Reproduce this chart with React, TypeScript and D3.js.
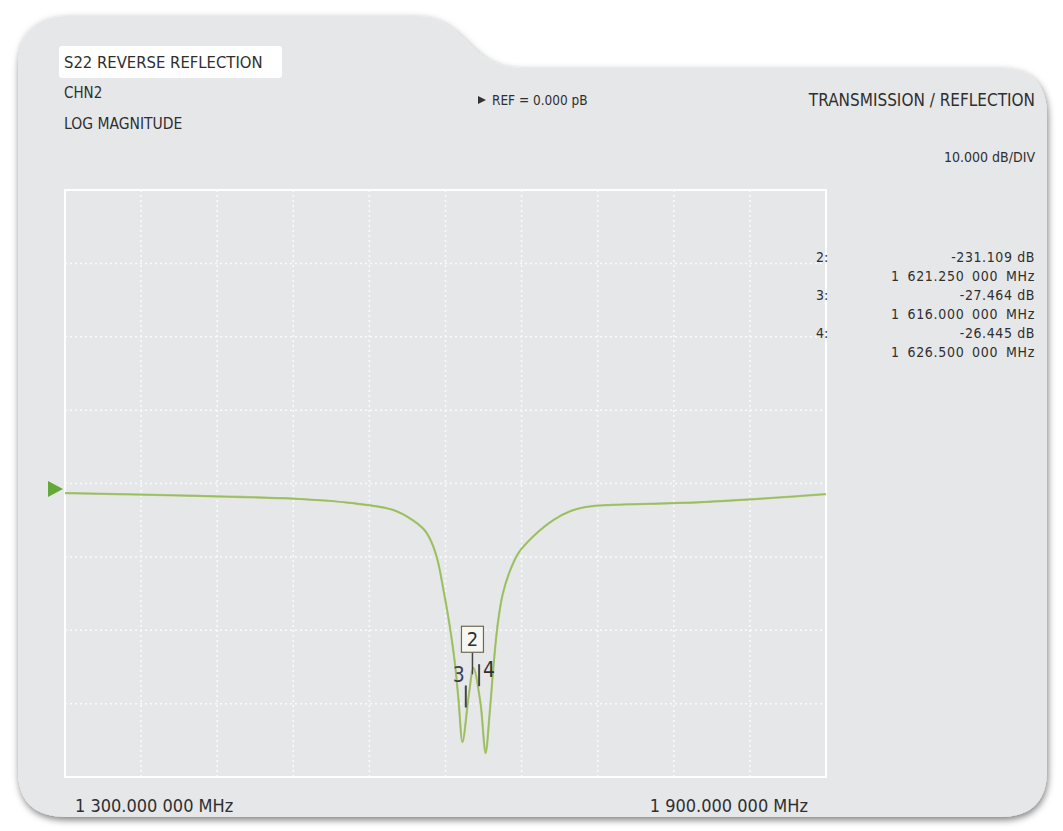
import { useEffect, useRef } from 'react';
import * as d3 from 'd3';

// trace (frequency in MHz, magnitude in dB)
const traceFreq = [1300, 1406.6, 1485.5, 1525, 1558.9, 1573.9, 1583.4, 1588.9, 1593.7, 1598.4, 1603.2, 1607.1, 1610.3, 1613.4, 1618.2, 1622.1, 1627.6, 1631.6, 1634.7, 1637.9, 1641.1, 1645.0, 1650.5, 1657.6, 1669.5, 1685.3, 1698.7, 1710.5, 1726.3, 1801.3, 1900];
const traceDb = [-0.55, -0.95, -1.36, -1.9, -2.86, -4.22, -5.59, -7.22, -9.67, -13.76, -18.53, -23.3, -28.8, -34.5, -28.3, -24.4, -29.2, -36.0, -30.8, -24.0, -18.5, -14.4, -11.3, -8.7, -6.4, -4.2, -3.0, -2.45, -2.2, -1.8, -0.7];

const markerIds = ['2', '3', '4'];
const markerFreq = [1621.25, 1616, 1626.5];
const markerDbText = ['-231.109 dB', '-27.464 dB', '-26.445 dB'];
const markerFreqText = ['1 621.250 000 MHz', '1 616.000 000 MHz', '1 626.500 000 MHz'];

const headerLeft = ['S22 REVERSE REFLECTION', 'CHN2', 'LOG MAGNITUDE'];
const refText = 'REF = 0.000 pB';
const modeText = 'TRANSMISSION / REFLECTION';
const scaleText = '10.000 dB/DIV';
const startText = '1 300.000 000 MHz';
const stopText = '1 900.000 000 MHz';

const FREQ_START = 1300;
const FREQ_STOP = 1900;
const DIVS_X = 10;
const DIVS_Y = 8;
const DB_PER_DIV = 10;
const REF_DIV = 3.925; // reference level position, divisions from bottom

export default function App() {
  const svgRef = useRef<SVGSVGElement>(null);

  useEffect(() => {
    if (!svgRef.current) return;
    const svg = d3.select(svgRef.current);
    svg.selectAll('*').remove();

    const width = 1063;
    const height = 831;
    const plot = { left: 65, top: 190, right: 826, bottom: 777 };
    const font = '"DejaVu Sans Condensed", "Liberation Sans Narrow", Roboto, sans-serif';
    const textColor = '#2f2f2f';
    const trace = '#98c055';

    svg.attr('width', width).attr('height', height);

    const defs = svg.append('defs');
    const shadow = defs.append('filter').attr('id', 'shadow')
      .attr('x', '-5%').attr('y', '-5%').attr('width', '110%').attr('height', '110%');
    shadow.append('feDropShadow')
      .attr('dx', 1).attr('dy', 3).attr('stdDeviation', 3.5)
      .attr('flood-color', '#000').attr('flood-opacity', 0.5);

    // panel with the tab on top
    const panel = d3.path();
    panel.moveTo(18, 68);
    panel.quadraticCurveTo(18, 16, 70, 16);
    panel.lineTo(415, 16);
    panel.bezierCurveTo(468, 16, 466, 68, 522, 68);
    panel.lineTo(1000, 68);
    panel.quadraticCurveTo(1047, 68, 1047, 116);
    panel.lineTo(1047, 770);
    panel.quadraticCurveTo(1047, 817, 1000, 817);
    panel.lineTo(66, 817);
    panel.quadraticCurveTo(18, 817, 18, 770);
    panel.closePath();

    svg.append('path')
      .attr('d', panel.toString())
      .attr('fill', '#e6e7e9')
      .attr('filter', 'url(#shadow)');

    // Scales
    const x = d3.scaleLinear().domain([FREQ_START, FREQ_STOP]).range([plot.left, plot.right]);
    const y = d3.scaleLinear()
      .domain([-REF_DIV * DB_PER_DIV, (DIVS_Y - REF_DIV) * DB_PER_DIV])
      .range([plot.bottom, plot.top]);
    const divX = d3.scaleLinear().domain([0, DIVS_X]).range([plot.left, plot.right]);
    const divY = d3.scaleLinear().domain([0, DIVS_Y]).range([plot.bottom, plot.top]);

    // grid
    const grid = svg.append('g')
      .attr('stroke', '#ffffff')
      .attr('stroke-width', 1.5)
      .attr('stroke-dasharray', '2,3')
      .attr('opacity', 0.85);
    d3.range(1, DIVS_X).forEach(i => {
      grid.append('line')
        .attr('x1', divX(i)).attr('x2', divX(i))
        .attr('y1', plot.top).attr('y2', plot.bottom);
    });
    d3.range(1, DIVS_Y).forEach(i => {
      grid.append('line')
        .attr('x1', plot.left).attr('x2', plot.right)
        .attr('y1', divY(i)).attr('y2', divY(i));
    });

    svg.append('rect')
      .attr('x', plot.left).attr('y', plot.top)
      .attr('width', plot.right - plot.left)
      .attr('height', plot.bottom - plot.top)
      .attr('fill', 'none')
      .attr('stroke', '#ffffff')
      .attr('stroke-width', 2);

    // trace
    const points = traceFreq.map((f, i) => ({ f, db: traceDb[i] }));
    const line = d3.line<{ f: number; db: number }>()
      .x(d => x(d.f))
      .y(d => y(d.db))
      .curve(d3.curveCatmullRom.alpha(0.5));

    svg.append('path')
      .datum(points)
      .attr('d', line)
      .attr('fill', 'none')
      .attr('stroke', '#7fa83a')
      .attr('stroke-width', 2.2)
      .attr('opacity', 0.5);
    svg.append('path')
      .datum(points)
      .attr('d', line)
      .attr('fill', 'none')
      .attr('stroke', trace)
      .attr('stroke-width', 1.4);

    // reference arrow
    const refY = y(0);
    svg.append('path')
      .attr('d', `M48,${refY - 8}L63,${refY}L48,${refY + 8}Z`)
      .attr('fill', '#64a838');

    // markers
    const traceAt = (f: number) => {
      const i = d3.bisector((d: number) => d).right(traceFreq, f);
      const f0 = traceFreq[i - 1], f1 = traceFreq[i];
      const t = (f - f0) / (f1 - f0);
      return y(traceDb[i - 1] + t * (traceDb[i] - traceDb[i - 1]));
    };

    markerIds.forEach((id, i) => {
      const mx = x(markerFreq[i]);
      const ty = traceAt(markerFreq[i]);
      const g = svg.append('g');
      if (i === 0) {
        g.append('line')
          .attr('x1', mx).attr('x2', mx)
          .attr('y1', ty - 22).attr('y2', ty)
          .attr('stroke', '#444').attr('stroke-width', 1.5);
        g.append('rect')
          .attr('x', mx - 11).attr('y', ty - 48)
          .attr('width', 22).attr('height', 26)
          .attr('fill', '#f7f7f2')
          .attr('stroke', '#6b6b55').attr('stroke-width', 1.2);
        g.append('text')
          .attr('x', mx).attr('y', ty - 28)
          .attr('text-anchor', 'middle')
          .style('font-family', font).style('font-size', '20px')
          .attr('fill', textColor)
          .text(id);
      } else {
        const bottom = ty - 10;
        const top = bottom - 22;
        g.append('line')
          .attr('x1', mx).attr('x2', mx)
          .attr('y1', top).attr('y2', bottom)
          .attr('stroke', '#444').attr('stroke-width', 2);
        g.append('text')
          .attr('x', i === 1 ? mx - 1 : mx + 4)
          .attr('y', i === 1 ? top - 4 : top + 13)
          .attr('text-anchor', i === 1 ? 'end' : 'start')
          .style('font-family', font).style('font-size', '21px')
          .attr('fill', i === 1 ? '#3a3f5a' : textColor)
          .text(id);
      }
    });

    // header texts
    svg.append('rect')
      .attr('x', 59).attr('y', 46)
      .attr('width', 223).attr('height', 32)
      .attr('rx', 3)
      .attr('fill', '#ffffff');

    const txt = (tx: number, ty: number, s: string, size: number, anchor = 'start') =>
      svg.append('text')
        .attr('x', tx).attr('y', ty)
        .attr('text-anchor', anchor)
        .style('font-family', font)
        .style('font-size', `${size}px`)
        .attr('fill', textColor)
        .text(s);

    txt(64, 68, headerLeft[0], 16.5);
    txt(64, 98, headerLeft[1], 15);
    txt(64, 129, headerLeft[2], 15.5);

    svg.append('path')
      .attr('d', 'M478,96L486,100L478,104Z')
      .attr('fill', '#333');
    txt(492, 105, refText, 13.5);
    txt(1035, 106, modeText, 17, 'end');
    txt(1035, 162, scaleText, 14, 'end');

    // marker readout
    markerIds.forEach((id, i) => {
      const base = 262 + i * 38;
      txt(816, base, `${id}:`, 14);
      txt(1035, base, markerDbText[i], 14, 'end').style('letter-spacing', '0.6px');
      txt(1035, base + 19, markerFreqText[i], 14, 'end')
        .style('letter-spacing', '0.7px')
        .style('word-spacing', '3px');
    });

    txt(75, 812, startText, 18);
    txt(808, 812, stopText, 18, 'end');
  }, []);

  return (
    <div>
      <svg ref={svgRef} style={{ position: 'absolute', left: 0, top: 0, background: '#ffffff' }} />
    </div>
  );
}
